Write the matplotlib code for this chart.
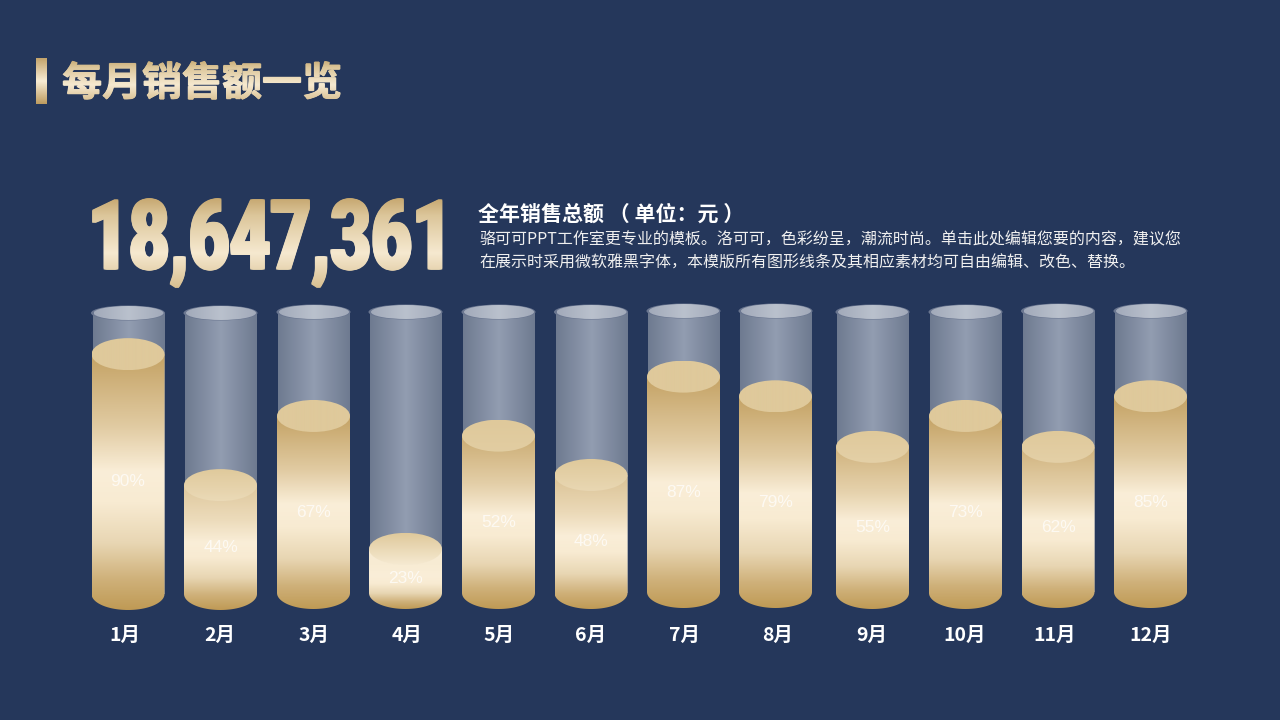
import matplotlib
matplotlib.use("Agg")
import matplotlib.pyplot as plt
import numpy as np
from matplotlib.colors import to_rgb
from matplotlib.patches import Polygon, Ellipse
from matplotlib.patheffects import AbstractPathEffect
from matplotlib.transforms import Affine2D, TransformedPath

months = ["1月", "2月", "3月", "4月", "5月", "6月", "7月", "8月", "9月", "10月", "11月", "12月"]
labels = [90, 44, 67, 23, 52, 48, 87, 79, 55, 73, 62, 85]
# drawn fill height, % of the tube (does not follow the labels in the source)
levels = [85, 38.4, 63, 15.7, 56, 42, 77, 70, 52, 63, 52, 70]

col_x = [128, 220.5, 313.5, 405.5, 498.5, 591, 683.5, 775.5, 872.5, 965.5, 1058, 1150.5]
month_x = [125, 220, 314, 407, 499, 591, 684, 778, 872, 965, 1055, 1151]
col_dy = [1, 1, 0, 0, 0, 0, -1, -1, 0, 0, -1, -1]

BG = "#25375B"
CJK = ["Noto Sans CJK SC", "DejaVu Sans"]
GOLD_STOPS = [(0, "#C4A46C"), (0.2, "#DCC69A"), (0.6, "#F6E9D0"), (1, "#D6BC8C")]
PX = 100 / 281  # level units per pixel


def ramp(stops, n):
    pos = [s[0] for s in stops]
    rgb = np.array([to_rgb(s[1]) for s in stops])
    t = np.linspace(0, 1, n)
    return np.stack([np.interp(t, pos, rgb[:, i]) for i in range(3)], axis=-1)


def mix(c1, c2, t):
    return tuple(np.array(to_rgb(c1)) * (1 - t) + np.array(to_rgb(c2)) * t)


class GoldFill(AbstractPathEffect):
    # paints a text's own glyph outline with a vertical gradient
    def __init__(self, stops, sx=1.0, spread=((0, 0),)):
        super().__init__()
        self.stops, self.sx, self.spread = stops, sx, spread

    def draw_path(self, renderer, gc, tpath, affine, rgbFace=None):
        aff = Affine2D().scale(self.sx, 1) + affine
        bb = tpath.transformed(aff).get_extents()
        x0, y0 = int(bb.x0) - 4, int(bb.y0) - 3
        w, h = int(bb.width) + 10, int(bb.height) + 7
        col = ramp(self.stops, h)[::-1]
        img = np.zeros((h, w, 4), dtype=np.uint8)
        img[..., :3] = (col[:, None, :] * 255).astype(np.uint8)
        img[..., 3] = 255
        for dx, dy in self.spread:
            g = renderer.new_gc()
            g.copy_properties(gc)
            g.set_clip_path(TransformedPath(tpath, aff + Affine2D().translate(dx, dy)))
            renderer.draw_image(g, x0, y0, img)
            g.restore()


def shade(ax, stops, extent, clip, horizontal=False):
    arr = ramp(stops, 256)
    arr = arr[None, :, :] if horizontal else arr[:, None, :]
    im = ax.imshow(arr, extent=extent, aspect="auto", interpolation="bilinear", zorder=clip.get_zorder())
    clip.set_transform(ax.transData)
    im.set_clip_path(clip)
    return im


fig = plt.figure(figsize=(12.8, 7.2), dpi=100, facecolor=BG)

# page level texts, in pixels
page = fig.add_axes([0, 0, 1, 1])
page.set_xlim(0, 1280)
page.set_ylim(720, 0)
page.axis("off")

page.imshow(ramp([(0, "#C4A46C"), (0.5, "#F8ECD4"), (1, "#BE9C60")], 64)[:, None, :],
            extent=(36, 47, 104, 58), aspect="auto")
page.set_xlim(0, 1280)
page.set_ylim(720, 0)

title_spread = [(-0.6, 0), (0, 0), (0.6, 0), (0, 0.5), (0, -0.5)]
num_spread = [(dx, dy) for dx in (-1.5, -0.5, 0.5, 1.5) for dy in (-0.5, 0.5)]
page.text(62, 84, "每月销售额一览", fontsize=28.8, fontweight="bold", family=CJK, color="#E6D5B0",
          va="center", path_effects=[GoldFill(GOLD_STOPS, spread=title_spread)])
page.text(88, 243, "18,647,361", fontsize=70, fontweight=900, family="Roboto", color="#E6D5B0",
          va="center", path_effects=[GoldFill(GOLD_STOPS, sx=0.725, spread=num_spread)])
page.text(478, 214, "全年销售总额 （ 单位：元 ）", fontsize=15.1, fontweight="bold", family=CJK, color="white", va="center")
page.text(479, 240, "骆可可PPT工作室更专业的模板。洛可可，色彩纷呈，潮流时尚。单击此处编辑您要的内容，建议您",
          fontsize=11.5, family=CJK, color="#F0F0F0", va="center")
page.text(479, 263, "在展示时采用微软雅黑字体，本模版所有图形线条及其相应素材均可自由编辑、改色、替换。",
          fontsize=11.5, family=CJK, color="#F0F0F0", va="center")

# cylinders: x in pixels, y in % of the tube
ax_top, ax_bottom = 284.0, 615.5
ax = fig.add_axes([0, 1 - ax_bottom / 720, 1, (ax_bottom - ax_top) / 720])
ax.patch.set_visible(False)
ax.set_frame_on(False)

half_w = 36.5
for i in range(12):
    x = col_x[i]
    base = -col_dy[i] * PX
    top = 100 - col_dy[i] * PX

    # empty tube
    tube_stops = [(0, "#6E7A90"), (0.5, "#929DB1"), (1, "#6E7A90")]
    tube = Polygon([(x - 35.5, base), (x + 36.5, base), (x + 36.5, top), (x - 35.5, top)], zorder=1)
    shade(ax, tube_stops, (x - 35.5, x + 36.5, base, top), tube, horizontal=True)
    ax.add_patch(Ellipse((x, top), 74, 15 * PX, color="#6A7690", zorder=2, lw=0))
    lid = Ellipse((x + 0.5, top), 70, 14 * PX, zorder=3)
    shade(ax, [(0, "#A2AABA"), (0.5, "#BAC1CD"), (1, "#A2AABA")], (x - 34.5, x + 35.5, top - 7 * PX, top + 7 * PX),
          lid, horizontal=True)

    # gold fill: body with a rounded bottom, then the top cap
    lvl = levels[i]
    ry = 16 * PX
    h_px = lvl / PX + 16
    t = min(1.0, max(0.0, (h_px - 60) / 130))
    body_top = mix("#F8ECD4", "#C4A264", t)
    cap_low = mix("#F6EAD2", "#DFC99B", t)
    a = np.linspace(np.pi, 2 * np.pi, 60)
    pts = [(x - half_w, lvl)] + [(x + half_w * np.cos(v), base + ry * np.sin(v)) for v in a] + [(x + half_w, lvl)]
    body = Polygon(pts, zorder=4)
    body_stops = [(0, body_top), (0.28, mix(body_top, "#F8ECD4", 0.55)), (0.46, "#FAEED8"), (0.58, "#F8EBD2"),
                  (0.74, "#E8D6B3"), (0.88, "#CFB17A"), (1, "#BF9A55")]
    shade(ax, body_stops, (x - half_w, x + half_w, base - ry, lvl), body)

    cap = Ellipse((x, lvl), 2 * half_w, 2 * ry, zorder=5)
    shade(ax, [(0, "#DFC99B"), (1, cap_low)], (x - half_w, x + half_w, lvl - ry, lvl + ry), cap)

    ax.text(x, (lvl - ry) / 2, f"{labels[i]}%", fontsize=12.5, family="Liberation Sans", color="white",
            alpha=0.7, ha="center", va="center", zorder=6)

ax.set_xlim(0, 1280)
ax.set_ylim((593 - ax_bottom) * PX, (593 - ax_top) * PX)
ax.set_yticks([])
ax.set_xticks(month_x, months, fontsize=14, fontweight="bold", family=CJK, color="white")
ax.tick_params(axis="x", length=0, pad=7.5)

fig.savefig("out.png", dpi=100, facecolor=BG)
